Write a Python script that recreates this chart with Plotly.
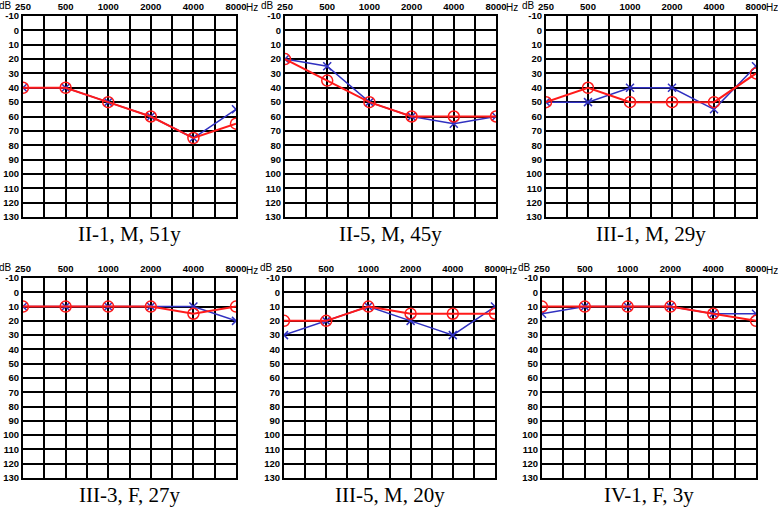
import plotly.graph_objects as go

freqs = ["250", "500", "1000", "2000", "4000", "8000"]
db_ticks = list(range(-10, 140, 10))

titles = ["II-1, M, 51y", "II-5, M, 45y", "III-1, M, 29y",
          "III-3, F, 27y", "III-5, M, 20y", "IV-1, F, 3y"]

red_vals = [
    [40, 40, 50, 60, 75, 65],
    [20, 35, 50, 60, 60, 60],
    [50, 40, 50, 50, 50, 30],
    [10, 10, 10, 10, 15, 10],
    [20, 20, 10, 15, 15, 15],
    [10, 10, 10, 10, 15, 20],
]
blue_vals = [
    [40, 40, 50, 60, 75, 55],
    [20, 25, 50, 60, 65, 60],
    [50, 50, 40, 40, 55, 25],
    [10, 10, 10, 10, 10, 20],
    [30, 20, 10, 20, 30, 10],
    [15, 10, 10, 10, 15, 15],
]

W, H = 778, 507
# panel boxes in pixels: left, right, top, bottom
boxes = [
    (23, 236, 16, 217), (285, 496, 16, 217), (546, 756, 16, 217),
    (23, 236, 278, 478), (284, 495, 278, 478), (542, 756, 278, 478),
]

RED = "#ff1a1a"
BLUE = "#3030c0"

fig = go.Figure()
xpos = list(range(len(freqs)))
xtickvals = [i * 0.5 for i in range(11)]
xticktext = []
for i in range(11):
    xticktext.append(freqs[i // 2] if i % 2 == 0 else "")
yticktext = [str(v) for v in db_ticks]

tickfont = dict(family="Liberation Sans", size=9.5, color="black", weight="bold")
unitfont = dict(family="Liberation Sans", size=10, color="black")

for k in range(6):
    n = "" if k == 0 else str(k + 1)
    l, r, t, b = boxes[k]
    fig.add_trace(go.Scatter(
        x=xpos, y=blue_vals[k], mode="lines+markers",
        line=dict(color=BLUE, width=1.5),
        marker=dict(symbol="x-thin", size=8, line=dict(color=BLUE, width=1.5)),
        xaxis="x" + n, yaxis="y" + n, showlegend=False,
    ))
    fig.add_trace(go.Scatter(
        x=xpos, y=red_vals[k], mode="lines+markers",
        line=dict(color=RED, width=2),
        marker=dict(symbol="circle-open", size=11, line=dict(color=RED, width=1.5)),
        xaxis="x" + n, yaxis="y" + n, showlegend=False,
    ))
    fig.layout["xaxis" + n] = dict(
        domain=[l / W, r / W], anchor="y" + n, range=[0, 5], side="top",
        tickvals=xtickvals, ticktext=xticktext, ticks="", tickfont=tickfont,
        showgrid=True, gridcolor="black", gridwidth=2, zeroline=False,
        showline=True, mirror=True, linecolor="black", linewidth=2,
        fixedrange=True, automargin=False,
    )
    fig.layout["yaxis" + n] = dict(
        domain=[1 - b / H, 1 - t / H], anchor="x" + n, range=[130, -10],
        tickvals=db_ticks, ticktext=yticktext, ticks="", tickfont=tickfont,
        showgrid=True, gridcolor="black", gridwidth=2, zeroline=False,
        showline=True, mirror=True, linecolor="black", linewidth=2,
        fixedrange=True, automargin=False,
    )
    # dB and Hz unit labels
    fig.add_annotation(x=l / W, y=1 - (t - 11) / H, xref="paper", yref="paper",
                       text="dB", showarrow=False, xanchor="right", yanchor="middle",
                       xshift=-9, font=unitfont)
    fig.add_annotation(x=r / W, y=1 - (t - 8) / H, xref="paper", yref="paper",
                       text="Hz", showarrow=False, xanchor="left", yanchor="middle",
                       xshift=8, font=unitfont)
    # panel caption
    fig.add_annotation(x=(l + r) / 2 / W, y=1 - (b + 17) / H, xref="paper", yref="paper",
                       text=titles[k], showarrow=False, xanchor="center", yanchor="middle",
                       font=dict(family="Liberation Serif", size=21, color="black"))

fig.update_layout(
    width=W, height=H, margin=dict(l=0, r=0, t=0, b=0),
    paper_bgcolor="white", plot_bgcolor="white",
)

# page body has a default 8px margin; remove it so the figure fills the window
fig.write_html("out.html", config={"displayModeBar": False},
               post_script="document.body.style.margin='0';")
